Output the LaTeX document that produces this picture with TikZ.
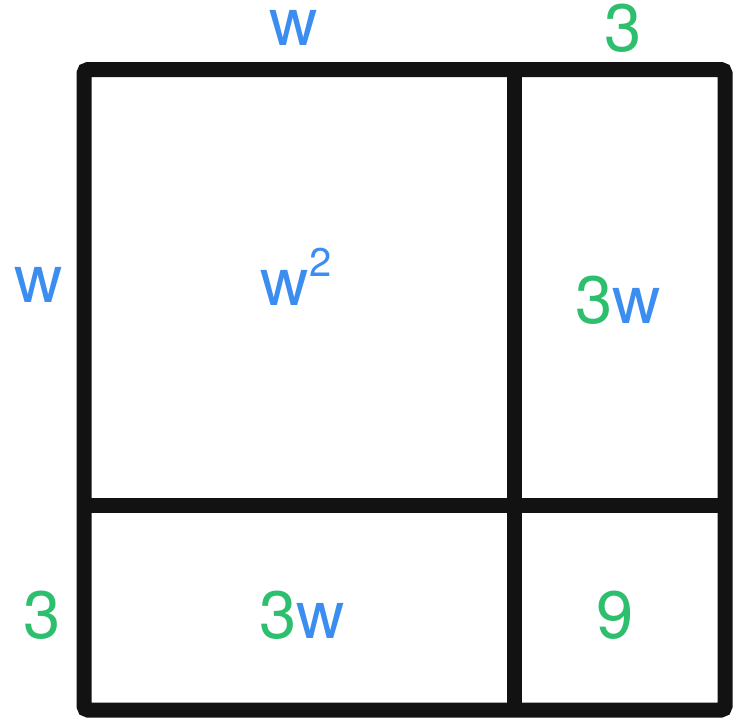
\documentclass[tikz,border=0pt]{standalone}
\usepackage{fontspec}
\setmainfont{TeX Gyre Heros}
\usepackage{xcolor}
\usepackage{tikz}
\usetikzlibrary{positioning}

\definecolor{wblue}{HTML}{3C8DF0}
\definecolor{tgreen}{HTML}{2DBF6E}

\begin{document}
\begin{tikzpicture}[
      x=1pt, y=-1pt,
      frame/.style={draw=black!93, line width=15pt, rounded corners=4pt},
      divider/.style={draw=black!93, line width=15pt},
      lbl/.style={anchor=base, inner sep=0pt, font=\fontsize{67}{80}\selectfont}
    ]
      \useasboundingbox (0,0) rectangle (736,724);
      % corners and divider ends
      \coordinate (tl) at (84,69.5);
      \coordinate (br) at (725,710);
      \coordinate (vtop) at (514,69.5);
      \coordinate (vbot) at (514,710);
      \coordinate (hleft) at (84,505.5);
      \coordinate (hright) at (725,505.5);
      \draw[divider] (vtop) -- (vbot);
      \draw[divider] (hleft) -- (hright);
      \draw[frame] (tl) rectangle (br);
      % side labels
      \node[lbl, text=wblue] (topw) at (294,45) {w};
      \node[lbl, text=tgreen] (topthree) at (623,51) {3};
      \node[lbl, text=wblue] (leftw) at (39,302) {w};
      \node[lbl, text=tgreen] (leftthree) at (42,638) {3};
      % areas
      \node[lbl, text=wblue] (wsq) at (296,305) {w\raisebox{0.42em}{\fontsize{40}{40}\selectfont 2}};
      \node[lbl] (rightarea) at (618,323) {{\color{tgreen}3}{\color{wblue}w}};
      \node[lbl] (bottomarea) at (302,638) {{\color{tgreen}3}{\color{wblue}w}};
      \node[lbl, text=tgreen] (nine) at (615,638) {9};
    \end{tikzpicture}
\end{document}
